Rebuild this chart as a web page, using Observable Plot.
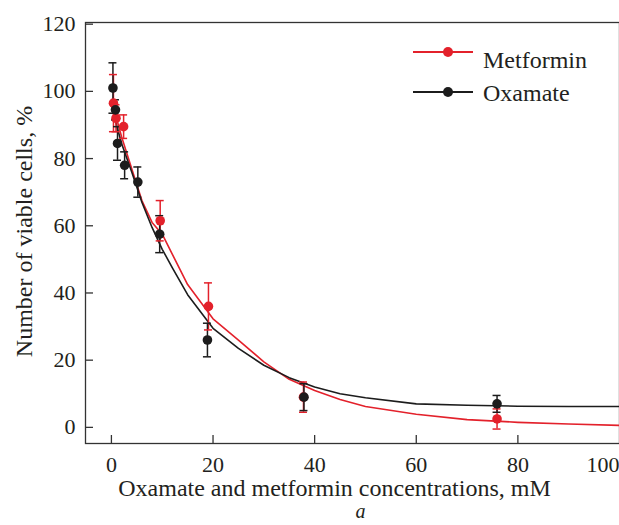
<!DOCTYPE html>
<html>
<head>
<meta charset="utf-8">
<script src="https://cdn.jsdelivr.net/npm/d3@7"></script>
<script src="https://cdn.jsdelivr.net/npm/@observablehq/plot@0.6"></script>
<style>
  html, body { margin: 0; padding: 0; background: #fff; }
  #wrap { position: relative; width: 619px; height: 525px; overflow: hidden; }
  #legend { position: absolute; left: 0; top: 0; pointer-events: none; }
</style>
</head>
<body>
<div id="wrap"></div>
<script>
// ---- Data ----
const seriesNames = ["Metformin", "Oxamate"];
const seriesColors = ["#e3212b", "#1c1c1c"];

const metX   = [0.4, 0.9, 2.4, 9.6, 19.1, 37.8, 75.9];
const metY   = [96.5, 92, 89.5, 61.5, 36, 9, 2.5];
const metErr = [8.5, 4, 3.5, 6, 7, 4.5, 3];

const oxaX   = [0.3, 0.8, 1.2, 2.6, 5.2, 9.5, 18.9, 37.9, 75.9];
const oxaY   = [101, 94.5, 84.5, 78, 73, 57.5, 26, 9, 7];
const oxaErr = [7.5, 3, 5, 4, 4.5, 5.5, 5, 4, 2.5];

const fitX   = [0, 1, 2, 4, 6, 8, 10, 12, 15, 20, 25, 30, 35, 40, 45, 50, 60, 70, 80, 90, 100];
const metFit = [97, 92, 86.5, 77, 67.5, 61, 57.5, 51.5, 42.5, 32.3, 26, 19.5, 14.3, 11, 8.3, 6.2, 3.9, 2.3, 1.5, 1.0, 0.6];
const oxaFit = [96, 90, 84.5, 76, 67, 59.5, 53, 47.5, 39.5, 29.5, 23.5, 18.5, 14.8, 12, 10, 8.8, 7.0, 6.6, 6.3, 6.2, 6.2];

const xTicks = [0, 20, 40, 60, 80, 100];
const yTicks = [0, 20, 40, 60, 80, 100, 120];

const xLabel = "Oxamate and metformin concentrations, mM";
const yLabel = "Number of viable cells, %";
const panelLabel = "a";

// ---- Build tables ----
const pts = [
  ...metX.map((x, i) => ({s: seriesNames[0], x, y: metY[i], e: metErr[i]})),
  ...oxaX.map((x, i) => ({s: seriesNames[1], x, y: oxaY[i], e: oxaErr[i]}))
];
const fits = [
  ...fitX.map((x, i) => ({s: seriesNames[0], x, y: metFit[i]})),
  ...fitX.map((x, i) => ({s: seriesNames[1], x, y: oxaFit[i]}))
];

const W = 619, H = 525;
const mL = 85, mR = 0, mT = 22, mB = 82;
const plotW = W - mL - mR, plotH = H - mT - mB;
const serif = "'Liberation Serif', 'Times New Roman', serif";
const ink = "#231f20";

const colorScale = {domain: seriesNames, range: seriesColors};

const chart = Plot.plot({
  width: W,
  height: H,
  marginLeft: mL,
  marginRight: mR,
  marginTop: mT,
  marginBottom: mB,
  style: {fontFamily: serif, fontSize: "22px", color: ink, background: "#fff"},
  x: {domain: [-5.1, 100], label: null},
  y: {domain: [-4.8, 120.5], label: null},
  color: colorScale,
  marks: [
    Plot.frame({stroke: "#333", strokeWidth: 1.3}),
    // inward ticks
    Plot.tickX(xTicks.filter(d => d < 100), {x: d => d, stroke: "#333", strokeWidth: 1.3, insetTop: plotH - 8}),
    Plot.tickY(yTicks, {y: d => d, stroke: "#333", strokeWidth: 1.3, insetRight: plotW - 8}),
    // tick labels
    Plot.axisX(xTicks.filter(d => d < 100), {tickSize: 0, tickPadding: 13, fontSize: 22, fill: ink}),
    Plot.axisX([100], {tickSize: 0, tickPadding: 13, fontSize: 22, fill: ink, textAnchor: "end"}),
    Plot.axisY(yTicks, {tickSize: 0, tickPadding: 10, fontSize: 22, fill: ink}),
    // axis labels
    Plot.text([xLabel], {frameAnchor: "bottom", dx: -18, dy: 45, text: d => d, fontSize: 24, fill: ink, textAnchor: "middle", lineAnchor: "middle"}),
    Plot.text([yLabel], {frameAnchor: "left", dx: -61, dy: -1.5, rotate: -90, text: d => d, fontSize: 24, fill: ink, textAnchor: "middle", lineAnchor: "middle"}),
    Plot.text([panelLabel], {frameAnchor: "bottom", dx: 8, dy: 68, text: d => d, fontSize: 20, fontStyle: "italic", fill: ink, textAnchor: "middle", lineAnchor: "middle"}),
    // fitted curves
    Plot.line(fits, {x: "x", y: "y", z: "s", stroke: "s", strokeWidth: 1.6}),
    // error bars
    Plot.ruleX(pts, {x: "x", y1: d => d.y - d.e, y2: d => d.y + d.e, stroke: "s", strokeWidth: 1.5}),
    Plot.ruleY(pts, {y: d => d.y + d.e, x1: "x", x2: "x", insetLeft: -4, insetRight: -4, stroke: "s", strokeWidth: 1.5}),
    Plot.ruleY(pts, {y: d => d.y - d.e, x1: "x", x2: "x", insetLeft: -4, insetRight: -4, stroke: "s", strokeWidth: 1.5}),
    // points
    Plot.dot(pts, {x: "x", y: "y", fill: "s", r: 4.8})
  ]
});

const wrap = document.getElementById("wrap");
wrap.appendChild(chart);

// ---- Legend (inside plot, top right) ----
const ns = "http://www.w3.org/2000/svg";
const leg = document.createElementNS(ns, "svg");
leg.setAttribute("id", "legend");
leg.setAttribute("width", W);
leg.setAttribute("height", 130);
const rows = [
  {name: seriesNames[0], color: seriesColors[0], ly: 52, ty: 60},
  {name: seriesNames[1], color: seriesColors[1], ly: 92, ty: 93}
];
rows.forEach(r => {
  const ln = document.createElementNS(ns, "line");
  ln.setAttribute("x1", 413); ln.setAttribute("x2", 473);
  ln.setAttribute("y1", r.ly); ln.setAttribute("y2", r.ly);
  ln.setAttribute("stroke", r.color); ln.setAttribute("stroke-width", 1.8);
  leg.appendChild(ln);
  const c = document.createElementNS(ns, "circle");
  c.setAttribute("cx", 448); c.setAttribute("cy", r.ly); c.setAttribute("r", 5);
  c.setAttribute("fill", r.color);
  leg.appendChild(c);
  const t = document.createElementNS(ns, "text");
  t.setAttribute("x", 483); t.setAttribute("y", r.ty);
  t.setAttribute("dy", "0.32em");
  t.setAttribute("font-family", serif);
  t.setAttribute("font-size", 24);
  t.setAttribute("fill", ink);
  t.textContent = r.name;
  leg.appendChild(t);
});
wrap.appendChild(leg);
</script>
</body>
</html>
